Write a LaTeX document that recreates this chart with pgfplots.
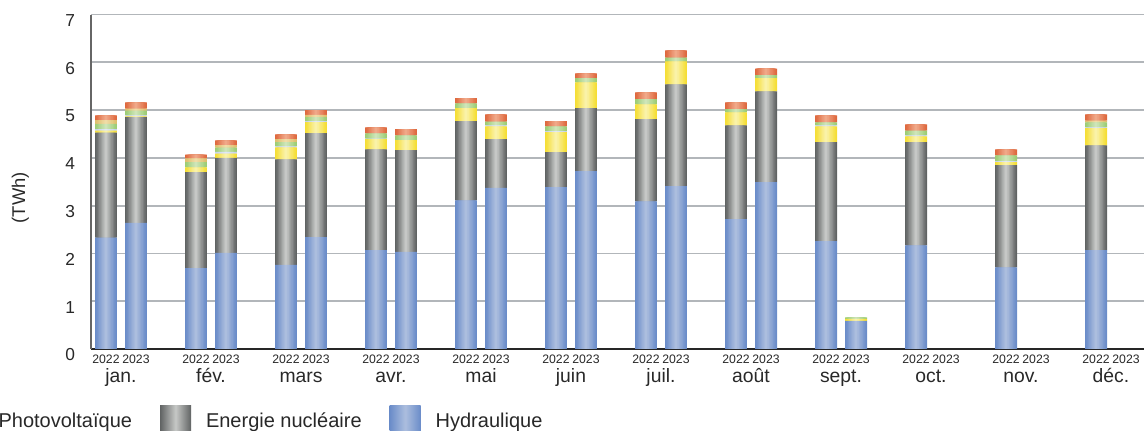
\documentclass[border=0pt]{standalone}
\usepackage{fontspec}
\setmainfont{Liberation Sans}
\usepackage{pgfplots}
\usepackage{pgfplotstable}
\pgfplotsset{compat=1.18}

\definecolor{hydE}{RGB}{106,140,201}
\definecolor{hydM}{RGB}{172,190,222}
\definecolor{nucE}{RGB}{96,99,99}
\definecolor{nucM}{RGB}{198,200,198}
\definecolor{pvE}{RGB}{245,222,52}
\definecolor{pvM}{RGB}{250,242,168}
\definecolor{eolE}{RGB}{196,210,236}
\definecolor{eolM}{RGB}{224,232,246}
\definecolor{bioE}{RGB}{156,205,116}
\definecolor{bioM}{RGB}{206,229,184}
\definecolor{autE}{RGB}{222,190,108}
\definecolor{autM}{RGB}{240,220,166}
\definecolor{theE}{RGB}{222,104,62}
\definecolor{theM}{RGB}{240,168,136}
\definecolor{gridc}{RGB}{178,182,186}
\definecolor{txt}{RGB}{40,40,40}

% one row per bar: x = position (2022 at 0.5+3i, 2023 at 1.5+3i)
\pgfplotstableread{
x    hydro nucl pv   eol   bio  autre therm
0.5  2.33  2.20 0.04 0.03  0.11 0.08  0.10
1.5  2.64  2.21 0.02 0.02  0.10 0.04  0.13
3.5  1.69  2.01 0.10 0     0.11 0.08  0.08
4.5  2.01  1.99 0.09 0.035 0.09 0.05  0.10
6.5  1.76  2.21 0.25 0.02  0.09 0.06  0.10
7.5  2.34  2.18 0.23 0.02  0.08 0.05  0.10
9.5  2.07  2.11 0.21 0.01  0.11 0     0.13
10.5 2.03  2.13 0.21 0     0.10 0     0.13
12.5 3.11  1.66 0.27 0     0.10 0     0.11
13.5 3.37  1.02 0.27 0.02  0.08 0     0.15
15.5 3.39  0.73 0.42 0.02  0.10 0     0.11
16.5 3.72  1.32 0.54 0     0.09 0     0.10
18.5 3.09  1.72 0.31 0     0.11 0     0.14
19.5 3.41  2.13 0.48 0     0.08 0     0.15
21.5 2.72  1.96 0.27 0     0.07 0     0.14
22.5 3.49  1.90 0.28 0     0.06 0     0.14
24.5 2.26  2.07 0.33 0.02  0.06 0     0.15
25.5 0.59  0    0.04 0     0.03 0     0
27.5 2.17  2.16 0.12 0.02  0.10 0     0.13
30.5 1.71  2.14 0.06 0.02  0.12 0     0.13
33.5 2.07  2.19 0.36 0.02  0.10 0.04  0.13
}\prod

\pgfplotsset{
    frame/.style={
        scale only axis,
        width=789.75pt, height=250.875pt,
        xmin=0, xmax=35.1,
        ymin=0, ymax=7,
        ybar stacked,
        every axis plot post/.append style={draw=none},
    },
}
\newcommand\mf{\fontsize{14.5}{17}\selectfont}
\newcommand\legbox[2]{\path[left color=#1, right color=#1, middle color=#2] (0pt,-11.25pt) rectangle (23.25pt,11.25pt);}

% narrower, lighter bars laid over the base ones give the cylinder look
\newcommand\bars[1]{%
\addplot[fill=hydM!#1!hydE] table[x=x, y=hydro] {\prod};
\addplot[fill=nucM!#1!nucE] table[x=x, y=nucl] {\prod};
\addplot[fill=pvM!#1!pvE] table[x=x, y=pv] {\prod};
\addplot[fill=eolM!#1!eolE] table[x=x, y=eol] {\prod};
\addplot[fill=bioM!#1!bioE] table[x=x, y=bio] {\prod};
\addplot[fill=autM!#1!autE] table[x=x, y=autre] {\prod};
\addplot[fill=theM!#1!theE] table[x=x, y=therm] {\prod};
}

\begin{document}
\begin{tikzpicture}
\begin{axis}[
    frame,
    bar width=0.733,
    axis x line*=bottom,
    axis y line*=left,
    axis line style={-},
    x axis line style={line width=1.5pt, color=black!85},
    y axis line style={line width=1.5pt, color=black!60},
    ytick={0,1,...,7},
    ymajorgrids,
    grid style={line width=1.3pt, color=gridc},
    major tick length=0pt,
    /pgf/number format/assume math mode=true,
    y tick label style={font=\fontsize{13}{15}\selectfont, xshift=-8.4pt, yshift=-4.5pt, text=txt},
    xtick={0.5,1.5,3.5,4.5,6.5,7.5,9.5,10.5,12.5,13.5,15.5,16.5,18.5,19.5,21.5,22.5,24.5,25.5,27.5,28.5,30.5,31.5,33.5,34.5},
    xticklabels={2022,2023,2022,2023,2022,2023,2022,2023,2022,2023,2022,2023,2022,2023,2022,2023,2022,2023,2022,2023,2022,2023,2022,2023},
    x tick label style={font=\fontsize{9.2}{11}\selectfont, anchor=base, yshift=-11.25pt, text=txt},
    extra x ticks={1,4,7,10,13,16,19,22,25,28,31,34},
    extra x tick labels={\mf jan.,\mf fév.,\mf mars,\mf avr.,\mf mai,\mf juin,\mf juil.,\mf août,\mf sept.,\mf oct.,\mf nov.,\mf déc.},
    extra x tick style={tick label style={yshift=-14.25pt}},
    ylabel={(TWh)},
    every axis y label/.style={at={(rel axis cs:0,0.5)}, xshift=-53pt, yshift=-12pt, rotate=90, anchor=center, font=\fontsize{13.8}{16}\selectfont, text=txt},
    reverse legend,
    legend columns=-1,
    legend style={at={(rel axis cs:0,0)}, anchor=west, xshift=-104pt, yshift=-54pt,
        draw=none, fill=none, inner sep=0pt,
        font=\fontsize{15}{17}\selectfont, text=txt,
        nodes={inner sep=0pt},
        /tikz/every odd column/.append style={column sep=11.25pt},
        /tikz/every even column/.append style={column sep=21pt}},
]
\addplot[fill=hydE, legend image code/.code={\legbox{hydE}{hydM}}] table[x=x, y=hydro] {\prod};
\addlegendentry{Hydraulique}
\addplot[fill=nucE, legend image code/.code={\legbox{nucE}{nucM}}] table[x=x, y=nucl] {\prod};
\addlegendentry{Energie nucléaire}
\addplot[fill=pvE, legend image code/.code={\legbox{pvE}{pvM}}] table[x=x, y=pv] {\prod};
\addlegendentry{Photovoltaïque}
\addplot[forget plot, fill=eolE] table[x=x, y=eol] {\prod};
\addplot[forget plot, fill=bioE] table[x=x, y=bio] {\prod};
\addplot[forget plot, fill=autE] table[x=x, y=autre] {\prod};
\addplot[forget plot, fill=theE] table[x=x, y=therm] {\prod};
\end{axis}
\foreach \k in {1,...,7}{
  \pgfmathsetmacro\w{0.733*(1-\k/8)}
  \pgfmathtruncatemacro\p{100*\k/7}
  \begin{axis}[frame, hide axis, bar width=\w]
  \bars{\p}
  \end{axis}
}
\pgfresetboundingbox
\useasboundingbox (-68.25pt,-61.5pt) rectangle (791.25pt,261.75pt);
\end{tikzpicture}
\end{document}
